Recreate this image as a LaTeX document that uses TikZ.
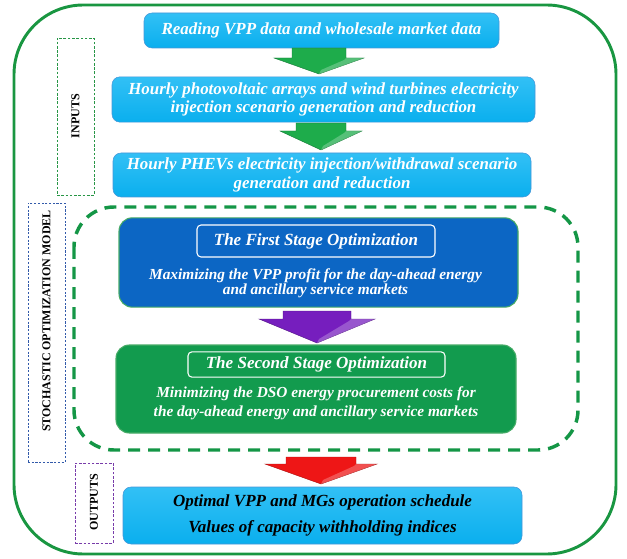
\documentclass[tikz,border=0pt]{standalone}
\usepackage{fontspec}
\setmainfont{Liberation Serif}
\usetikzlibrary{calc}
\definecolor{outergreen}{RGB}{25,150,65}
\definecolor{dashgreen}{RGB}{20,150,70}
\definecolor{cyanbox}{RGB}{10,175,238}
\definecolor{cyantop}{RGB}{50,192,245}
\definecolor{cyanedge}{RGB}{70,150,215}
\definecolor{firstblue}{RGB}{12,102,196}
\definecolor{secondgreen}{RGB}{18,155,78}
\definecolor{arrowgreen}{RGB}{30,172,75}
\definecolor{arrowpurple}{RGB}{118,30,190}
\definecolor{arrowred}{RGB}{238,22,22}
\definecolor{inputsdash}{RGB}{40,150,70}
\definecolor{stochdash}{RGB}{50,90,170}
\definecolor{outdash}{RGB}{120,60,170}
\newcommand\blkarrow[7]{% colour, cx, ytop, yhead, ytip, shaft half, head half
  \fill[#1, draw=#1!70!black, line width=0.3pt]
    ({#2-#6},#3) -- ({#2+#6},#3) -- ({#2+#6},#4) -- ({#2+#7},#4) --
    (#2,#5) -- ({#2-#7},#4) -- ({#2-#6},#4) -- cycle;
  \fill[white, opacity=0.25] ({#2+#6},#4) -- ({#2+#7},#4) -- (#2,#5) -- ({#2+2},{#5-4}) -- ({#2+#6-2},{#4+2}) -- cycle;}
\begin{document}
\begin{tikzpicture}[x=0.75pt,y=-0.75pt,
  cyanstyle/.style={rectangle, rounded corners=6pt, top color=cyantop, bottom color=cyanbox, draw=cyanedge, line width=0.4pt, text=white, font=\bfseries\itshape\fontsize{12.7}{13.8}\selectfont, align=center, inner sep=0pt},
  stagebox/.style={rectangle, rounded corners=10pt, draw=outergreen!80!white, line width=0.8pt},
  titlebox/.style={rectangle, rounded corners=3pt, draw=white, line width=0.8pt, text=white, font=\bfseries\itshape\fontsize{12.8}{15}\selectfont, inner sep=0pt},
  bodytext/.style={text=white, font=\bfseries\itshape\fontsize{11.5}{11.5}\selectfont, align=center},
  sidelabel/.style={rectangle, inner sep=0pt, line width=0.6pt},
  sidetext/.style={rotate=90, font=\bfseries\fontsize{9}{10}\selectfont}
]
\useasboundingbox (0,0) rectangle (627,559);

% outer frame
\draw[outergreen, line width=2.2pt, rounded corners=52pt] (14,5) rectangle (616,554);

% dashed stochastic frame
\draw[dashgreen, line width=2.6pt, dash pattern=on 9pt off 6pt, rounded corners=30pt] (74,207) rectangle (578,450);

% side label boxes
\node[sidelabel, draw=inputsdash, dash pattern=on 2pt off 1.2pt, minimum width=27.75pt, minimum height=117.75pt] (inbox) at (75.5,116.5) {};
\node[sidetext] (inlab) at (75.5,116) {INPUTS};
\node[sidelabel, draw=stochdash, dash pattern=on 1.6pt off 1.2pt, minimum width=27.75pt, minimum height=194.25pt] (stbox) at (46.5,332.5) {};
\node[sidetext] (stlab) at (46.5,321) {STOCHASTIC OPTIMIZATION MODEL};
\node[sidelabel, draw=outdash, dash pattern=on 2pt off 1.2pt, minimum width=28.5pt, minimum height=60pt] (outbox) at (94,503) {};
\node[sidetext] (outlab) at (94,502.5) {OUTPUTS};

% input boxes
\node[cyanstyle, minimum width=266.25pt, minimum height=26.25pt] (b1) at (321.5,30.5) {Reading VPP data and wholesale market data};
\node[cyanstyle, minimum width=317.25pt, minimum height=34pt] (b2) at (323.5,99.5) {Hourly photovoltaic arrays and wind turbines electricity\\injection scenario generation and reduction};
\node[cyanstyle, minimum width=313.5pt, minimum height=33pt] (b3) at (322,175) {Hourly PHEVs electricity injection/withdrawal scenario\\generation and reduction};

% first stage
\node[stagebox, fill=firstblue, minimum width=299.25pt, minimum height=67pt] (s1) at (318.5,262.5) {};
\node[titlebox, minimum width=178.5pt, minimum height=24pt] (t1) at (316,241) {The First Stage Optimization};
\node[bodytext] (m1) at (315.5,283.5) {Maximizing the VPP profit for the day-ahead energy\\and ancillary service markets};

% second stage
\node[stagebox, fill=secondgreen, minimum width=300pt, minimum height=66pt] (s2) at (316,389) {};
\node[titlebox, minimum width=192.75pt, minimum height=19pt] (t2) at (316.5,364.5) {The Second Stage Optimization};
\node[bodytext, font=\bfseries\itshape\fontsize{11.5}{14}\selectfont] (m2) at (316,403.5) {Minimizing the DSO energy procurement costs for\\the day-ahead energy and ancillary service markets};

% outputs
\node[cyanstyle, text=black, minimum width=299.25pt, minimum height=42.75pt, font=\bfseries\itshape\fontsize{12.75}{20}\selectfont] (o) at (322.5,515.5) {Optimal VPP and MGs operation schedule\\Values of capacity withholding indices};

% block arrows
\blkarrow{arrowgreen}{319}{48}{58}{74}{27}{45}
\blkarrow{arrowgreen}{321}{123}{131}{150}{25}{41}
\blkarrow{arrowpurple}{317}{311}{319}{343}{34}{58}
\blkarrow{arrowred}{321}{457}{464}{484}{35}{56}
\end{tikzpicture}
\end{document}
